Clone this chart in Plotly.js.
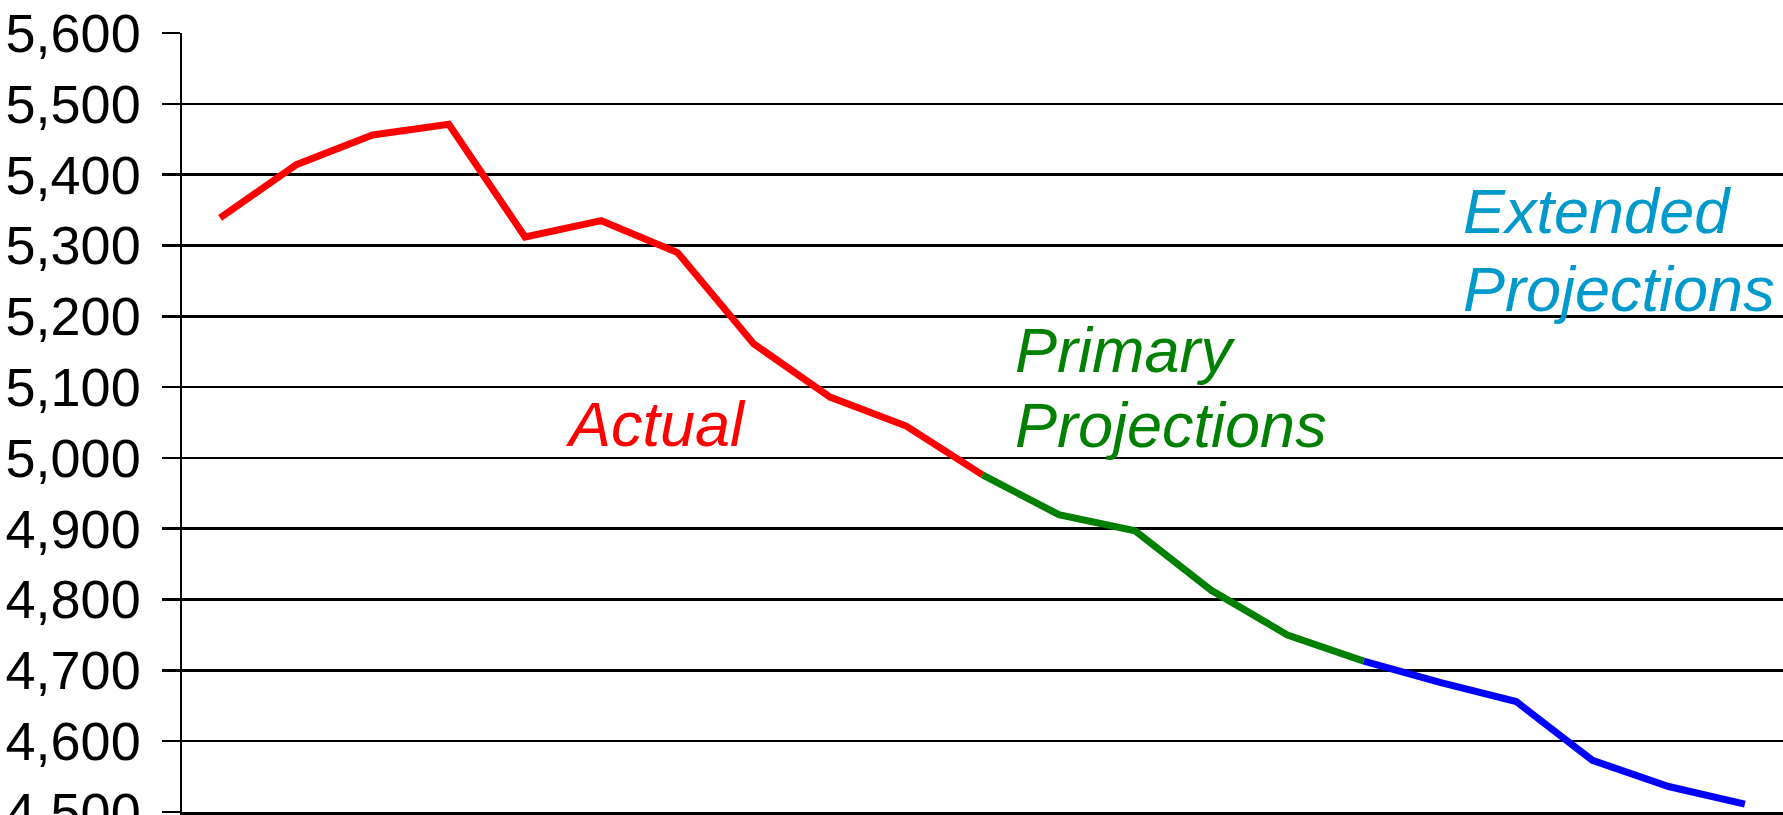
<!DOCTYPE html>
<html>
<head>
<meta charset="utf-8">
<script src="https://cdn.plot.ly/plotly-3.0.1.min.js"></script>
<style>
  html, body { margin: 0; padding: 0; background: #ffffff; }
  #chart { width: 1783px; height: 815px; }
</style>
</head>
<body>
<div id="chart"></div>
<script>
// Period index (no labels are printed on the category axis)
const periods = [0, 1, 2, 3, 4, 5, 6, 7, 8, 9, 10, 11, 12, 13, 14, 15, 16, 17, 18, 19, 20];

// Series values
const actualValues   = [5339, 5414, 5456, 5471, 5312, 5335, 5290, 5161, 5086, 5045, 4976];
const primaryValues  = [4976, 4920, 4897, 4813, 4750, 4713];
const extendedValues = [4713, 4683, 4656, 4573, 4536, 4511];

const actualPeriods   = periods.slice(0, 11);
const primaryPeriods  = periods.slice(10, 16);
const extendedPeriods = periods.slice(15, 21);

// Category boundary ticks (between periods)
const boundaryTicks = periods.concat([periods.length]).map(p => p - 0.5);

const labelFont = "Liberation Sans, Arial, sans-serif";

const traces = [
  { x: actualPeriods, y: actualValues, type: 'scatter', mode: 'lines',
    line: { color: '#FF0000', width: 7 }, hoverinfo: 'skip' },
  { x: primaryPeriods, y: primaryValues, type: 'scatter', mode: 'lines',
    line: { color: '#008000', width: 7 }, hoverinfo: 'skip' },
  { x: extendedPeriods, y: extendedValues, type: 'scatter', mode: 'lines',
    line: { color: '#0000FF', width: 7 }, hoverinfo: 'skip' }
];

function label(text, x, y, color) {
  return {
    text: text, x: x, y: y, xref: 'x', yref: 'y',
    xanchor: 'left', yanchor: 'middle', showarrow: false, align: 'left',
    font: { family: labelFont, size: 63, color: color, style: 'italic' }
  };
}

const layout = {
  width: 1783, height: 815,
  margin: { l: 182, r: 0, t: 33, b: 3, pad: 0 },
  paper_bgcolor: '#ffffff', plot_bgcolor: '#ffffff',
  showlegend: false,
  xaxis: {
    range: [-0.5, 20.5],
    tickmode: 'array', tickvals: boundaryTicks, ticktext: boundaryTicks.map(() => ''),
    ticks: 'outside', ticklen: 8, tickwidth: 2, tickcolor: '#000000',
    showgrid: false, zeroline: false,
    showline: true, linecolor: '#000000', linewidth: 3
  },
  yaxis: {
    range: [4500, 5600], dtick: 100, tick0: 4500, tickformat: ',d',
    ticks: 'outside', ticklen: 18, tickwidth: 2.5, tickcolor: '#000000',
    showgrid: true, gridcolor: '#000000', gridwidth: 2.5,
    zeroline: false, showline: true, linecolor: '#000000', linewidth: 2.5,
    ticklabelstandoff: 10, ticklabeloverflow: 'allow',
    tickfont: { family: labelFont, size: 54, color: '#000000' }
  },
  annotations: [
    label('Actual', 4.5, 5048, '#FF0000'),
    label('Primary', 10.4, 5152, '#008000'),
    label('Projections', 10.4, 5046, '#008000'),
    label('Extended', 16.28, 5348, '#0099CC'),
    label('Projections', 16.28, 5239, '#0099CC')
  ]
};

Plotly.newPlot('chart', traces, layout, { displayModeBar: false, staticPlot: true });
</script>
</body>
</html>
